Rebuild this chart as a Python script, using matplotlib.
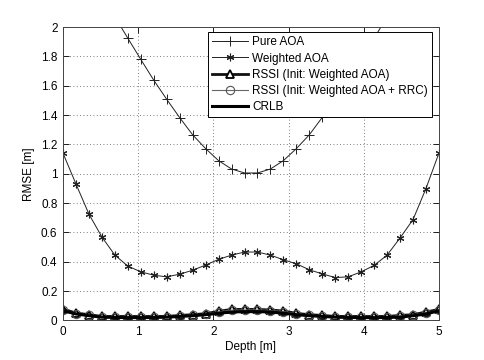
import numpy as np
import matplotlib
matplotlib.use('Agg')
import matplotlib.pyplot as plt

plt.rcParams['font.family'] = ['Liberation Sans', 'DejaVu Sans']
plt.rcParams['font.size'] = 8.5

depth = np.linspace(0, 5, 30)

pure_aoa = [2.72, 2.55, 2.38, 2.22, 2.07, 1.923, 1.779, 1.637, 1.507, 1.382,
            1.265, 1.171, 1.089, 1.032, 1.005, 1.005, 1.032, 1.089, 1.171, 1.265,
            1.384, 1.507, 1.637, 1.779, 1.923, 2.07, 2.22, 2.38, 2.55, 2.72]
weighted_aoa = [1.139, 0.929, 0.724, 0.568, 0.445, 0.370, 0.331, 0.308, 0.297, 0.315,
                0.342, 0.377, 0.416, 0.445, 0.466, 0.466, 0.445, 0.413, 0.386, 0.345,
                0.317, 0.292, 0.297, 0.331, 0.375, 0.445, 0.562, 0.687, 0.899, 1.14]
rssi_waoa = [0.077, 0.050, 0.039, 0.027, 0.027, 0.027, 0.027, 0.027, 0.027, 0.034,
             0.039, 0.046, 0.062, 0.075, 0.075, 0.075, 0.071, 0.064, 0.048, 0.039,
             0.034, 0.027, 0.027, 0.027, 0.027, 0.027, 0.034, 0.039, 0.057, 0.075]
rssi_rrc = [0.072, 0.046, 0.035, 0.024, 0.023, 0.023, 0.023, 0.024, 0.025, 0.031,
            0.036, 0.043, 0.058, 0.070, 0.071, 0.071, 0.067, 0.060, 0.045, 0.036,
            0.031, 0.024, 0.023, 0.023, 0.023, 0.024, 0.031, 0.036, 0.053, 0.071]
crlb = [0.066, 0.044, 0.032, 0.022, 0.020, 0.019, 0.019, 0.020, 0.022, 0.027,
        0.032, 0.039, 0.049, 0.057, 0.060, 0.060, 0.057, 0.049, 0.039, 0.032,
        0.027, 0.022, 0.020, 0.019, 0.019, 0.020, 0.022, 0.032, 0.044, 0.066]

fig = plt.figure(figsize=(4.85, 3.6), dpi=100)
ax = fig.add_axes([0.13, 0.11, 0.775, 0.815])

asterisk = (6, 2, 0)
ax.plot(depth, pure_aoa, '-', color='#222222', lw=0.7, marker='+', ms=7, mew=0.7,
        label='Pure AOA')
ax.plot(depth, weighted_aoa, '-', color='#222222', lw=0.7, marker=asterisk, ms=5.5,
        mew=0.8, label='Weighted AOA')
ax.plot(depth, rssi_waoa, '-', color='#111111', lw=2.0, marker='^', ms=6,
        mfc='white', mec='black', mew=1.3, label='RSSI (Init: Weighted AOA)')
ax.plot(depth, rssi_rrc, '-', color='#666666', lw=0.8, marker='o', ms=6,
        mfc='none', mec='#555555', mew=0.8, label='RSSI (Init: Weighted AOA + RRC)')
ax.plot(depth, crlb, '-', color='black', lw=2.2, label='CRLB')

ax.set_xlim(0, 5)
ax.set_ylim(0, 2)
ax.set_xticks(np.arange(0, 6, 1))
ax.set_yticks(np.arange(0, 2.01, 0.2))
ax.set_yticklabels(['0', '0.2', '0.4', '0.6', '0.8', '1', '1.2', '1.4', '1.6', '1.8', '2'])
ax.tick_params(direction='in', length=4, width=0.6, top=True, right=True, pad=4)
ax.grid(True, linestyle=(0, (1, 3)), color='#555555', linewidth=0.6)
for s in ax.spines.values():
    s.set_color('#444444')
    s.set_linewidth(0.7)

ax.set_xlabel('Depth [m]', labelpad=2)
ax.set_ylabel('RMSE [m]', labelpad=4)

leg = ax.legend(loc='upper right', bbox_to_anchor=(0.982, 0.982), fancybox=False,
                edgecolor='black', framealpha=1, handlelength=3.0, numpoints=1,
                borderpad=0.35, labelspacing=0.35, handletextpad=0.4, borderaxespad=0.0)
leg.get_frame().set_linewidth(0.7)

fig.savefig('out.png', dpi=100)
